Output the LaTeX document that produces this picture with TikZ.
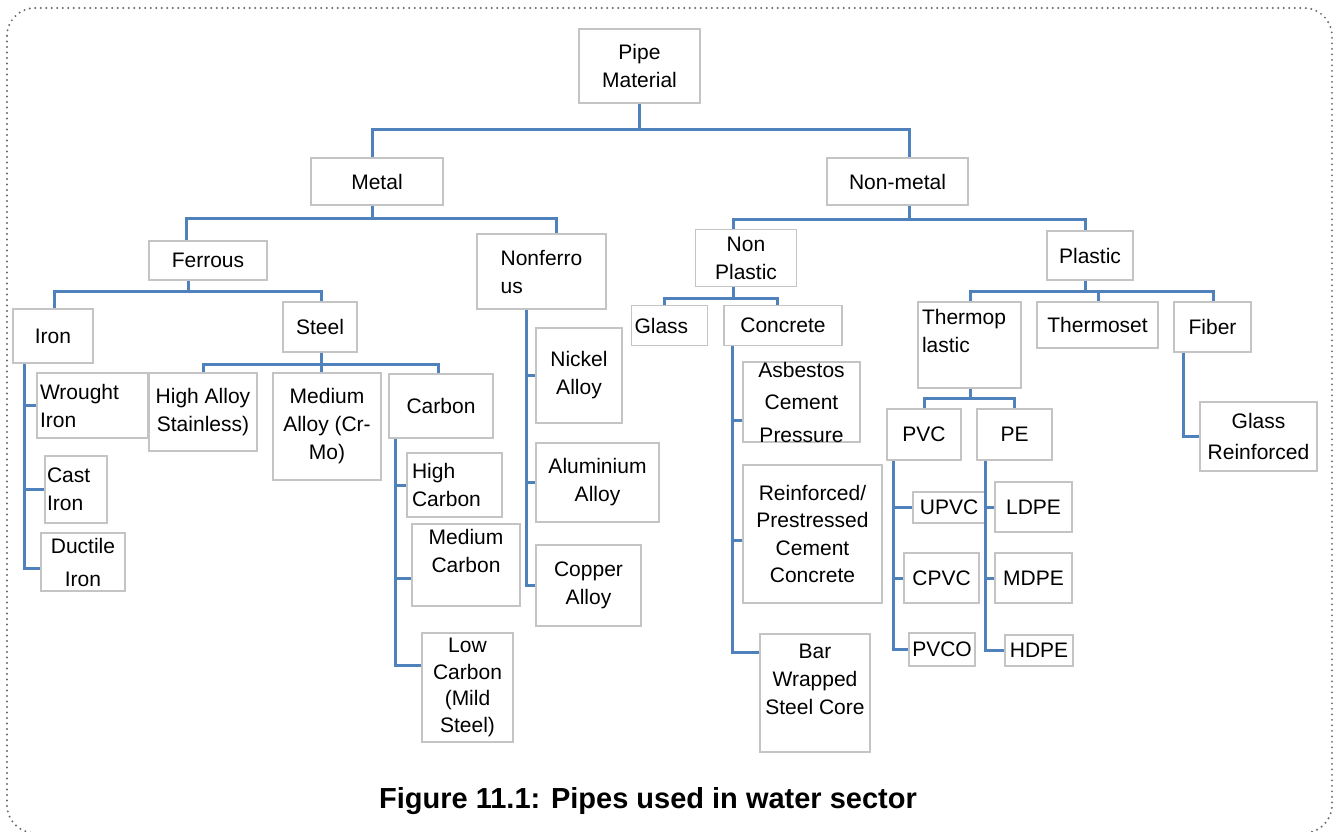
\documentclass[tikz,border=0pt]{standalone}
\usepackage{fontspec}
\setmainfont{Liberation Sans}
\usepackage{xcolor}

\definecolor{linkblue}{RGB}{79,129,189}
\definecolor{boxgray}{RGB}{196,196,196}
\definecolor{framegray}{RGB}{105,105,105}

\tikzset{
  box/.style={draw=boxgray, line width=1.5pt, fill=white, inner sep=0pt, align=center,
    font=\fontsize{21}{28}\selectfont},
  conn/.style={draw=linkblue, line width=3pt},
}

\begin{document}
\begin{tikzpicture}[x=1pt,y=-1pt]
        \useasboundingbox (0,0) rectangle (1338,831);
        \draw[framegray, line width=2.2pt, line cap=round, dash pattern=on 0pt off 5.5pt, rounded corners=28pt] (7,8) rectangle (1332,833);
        % top levels
        \node[box, minimum width=121pt, minimum height=74pt] (pipe) at (639.5,66) {Pipe\\Material};
        \node[box, minimum width=132pt, minimum height=47pt] (metal) at (377,181.5) {Metal};
        \node[box, minimum width=141pt, minimum height=47pt] (nonmetal) at (897.5,181.5) {Non-metal};
        % metal side
        \node[box, minimum width=118pt, minimum height=39pt] (ferrous) at (208,260.5) {Ferrous};
        \node[box, minimum width=129pt, minimum height=75pt, align=left] (nonferrous) at (541.5,271.5) {Nonferro\\us};
        \node[box, minimum width=80pt, minimum height=54pt] (iron) at (53,336) {Iron};
        \node[box, minimum width=74pt, minimum height=50pt] (steel) at (320,327) {Steel};
        \node[box, minimum width=111pt, minimum height=65pt, align=left, text width=105pt] (wrought) at (92.5,405.5) {Wrought\\Iron};
        \node[box, minimum width=62pt, minimum height=67pt, align=left, text width=58pt] (cast) at (76,489.5) {Cast\\Iron};
        \node[box, minimum width=84pt, minimum height=58pt] (ductile) at (83,562) {Ductile\\[5pt]Iron};
        \node[box, minimum width=108pt, minimum height=78pt] (highalloy) at (203,412) {High Alloy\\Stainless)};
        \node[box, minimum width=108pt, minimum height=107pt] (medalloy) at (327,426.5) {Medium\\Alloy (Cr-\\Mo)};
        \node[box, minimum width=104pt, minimum height=64pt] (carbon) at (441,406) {Carbon};
        \node[box, minimum width=95pt, minimum height=64pt, align=left, text width=85pt] (highc) at (454.5,485) {High\\Carbon};
        \node[box, minimum width=108pt, minimum height=82pt] (medc) at (466,565) {Medium\\Carbon\\~};
        \node[box, minimum width=91pt, minimum height=109pt, font=\fontsize{21}{26.5}\selectfont] (lowc) at (467.5,687.5) {Low\\Carbon\\(Mild\\Steel)};
        \node[box, minimum width=86pt, minimum height=95pt] (nickel) at (579,375.5) {Nickel\\Alloy};
        \node[box, minimum width=123pt, minimum height=79pt] (alu) at (597.5,482.5) {Aluminium\\Alloy};
        \node[box, minimum width=105pt, minimum height=81pt] (copper) at (588.5,585.5) {Copper\\Alloy};
        % non-metal side
        \node[box, minimum width=101pt, minimum height=57pt] (nonplastic) at (746,258) {Non\\Plastic};
        \node[box, minimum width=86pt, minimum height=49pt] (plastic) at (1090,255.5) {Plastic};
        \node[box, minimum width=76pt, minimum height=40pt, align=left, text width=70pt] (glass) at (669.5,325.5) {Glass};
        \node[box, minimum width=118pt, minimum height=40pt] (concrete) at (783,325.5) {Concrete};
        \node[box, minimum width=117pt, minimum height=72pt, font=\fontsize{21}{32.5}\selectfont] (asbestos) at (801.5,402) {Asbestos\\Cement\\Pressure};
        \node[box, minimum width=139pt, minimum height=138pt, font=\fontsize{21}{27.5}\selectfont] (reinforced) at (812.5,534) {Reinforced/\\Prestressed\\Cement\\Concrete};
        \node[box, minimum width=110pt, minimum height=118pt] (barwrap) at (815,693) {Bar\\Wrapped\\Steel Core\\~};
        \node[box, minimum width=103pt, minimum height=86pt, align=left, text width=95pt] (thermoplastic) at (969.5,345) {Thermop\\lastic\\~};
        \node[box, minimum width=121pt, minimum height=46pt] (thermoset) at (1097.5,325) {Thermoset};
        \node[box, minimum width=77pt, minimum height=50pt] (fiber) at (1212.5,327) {Fiber};
        \node[box, minimum width=117pt, minimum height=69pt, font=\fontsize{21}{31}\selectfont] (glassrf) at (1258.5,436.5) {Glass\\Reinforced};
        \node[box, minimum width=74pt, minimum height=51pt] (pvc) at (924,434.5) {PVC};
        \node[box, minimum width=75pt, minimum height=51pt] (pe) at (1014.5,434.5) {PE};
        \node[box, minimum width=72pt, minimum height=31pt] (upvc) at (949,507.5) {UPVC};
        \node[box, minimum width=75pt, minimum height=50pt] (cpvc) at (941.5,578) {CPVC};
        \node[box, minimum width=66pt, minimum height=33pt] (pvco) at (942,649.5) {PVCO};
        \node[box, minimum width=77pt, minimum height=50pt] (ldpe) at (1033.5,507) {LDPE};
        \node[box, minimum width=77pt, minimum height=50pt] (mdpe) at (1033.5,578) {MDPE};
        \node[box, minimum width=68pt, minimum height=31pt] (hdpe) at (1039,650.5) {HDPE};
        % connectors
        \draw[conn] (pipe.south) -- ++(0,26) coordinate (pm);
        \draw[conn] (metal.north -| 372,0) |- (pm) -| (nonmetal.north -| 909,0);
        \draw[conn] (metal.south -| 372,0) -- ++(0,13) coordinate (mm);
        \draw[conn] (ferrous.north -| 186,0) |- (mm) -| (nonferrous.north -| 556,0);
        \draw[conn] (ferrous.south -| 188,0) -- ++(0,11) coordinate (fm);
        \draw[conn] (iron.north -| 54,0) |- (fm) -| (steel.north -| 321,0);
        \draw[conn] (iron.south -| 24,0) |- (ductile.west |- 0,568);
        \draw[conn] (wrought.west -| 24,0) -- (wrought.west);
        \draw[conn] (cast.west -| 24,0) -- (cast.west);
        \draw[conn] (steel.south -| 321,0) -- ++(0,12) coordinate (sm);
        \draw[conn] (highalloy.north -| 203,0) |- (sm) -| (carbon.north -| 438,0);
        \draw[conn] (sm) -- (medalloy.north -| 321,0);
        \draw[conn] (carbon.south -| 395,0) |- (lowc.west |- 0,665);
        \draw[conn] (highc.west -| 395,0) -- (highc.west);
        \draw[conn] (medc.west |- 0,578) -- ++(-17,0);
        \draw[conn] (nonferrous.south -| 526,0) |- (copper.west);
        \draw[conn] (nickel.west -| 526,0) -- (nickel.west);
        \draw[conn] (alu.west -| 526,0) -- (alu.west);
        \draw[conn] (nonmetal.south -| 909,0) -- ++(0,14) coordinate (nm);
        \draw[conn] (nonplastic.north -| 733,0) |- (nm) -| (plastic.north -| 1085,0);
        \draw[conn] (nonplastic.south -| 733,0) -- ++(0,11) coordinate (npm);
        \draw[conn] (glass.north -| 664,0) |- (npm) -| (concrete.north -| 777,0);
        \draw[conn] (concrete.south -| 732,0) |- (barwrap.west |- 0,652);
        \draw[conn] (asbestos.west |- 0,420) -- ++(-11,0);
        \draw[conn] (reinforced.west |- 0,540) -- ++(-11,0);
        \draw[conn] (plastic.south -| 1085,0) -- ++(0,11) coordinate (pl);
        \draw[conn] (thermoplastic.north -| 970,0) |- (pl) -| (fiber.north -| 1213,0);
        \draw[conn] (pl -| 1098,0) -- (thermoset.north -| 1098,0);
        \draw[conn] (thermoplastic.south -| 970,0) -- ++(0,10) coordinate (tp);
        \draw[conn] (pvc.north -| 924,0) |- (tp) -| (pe.north -| 1014,0);
        \draw[conn] (pvc.south -| 893,0) |- (pvco.west);
        \draw[conn] (upvc.west -| 893,0) -- (upvc.west);
        \draw[conn] (cpvc.west -| 893,0) -- (cpvc.west);
        \draw[conn] (pe.south -| 985,0) |- (hdpe.west);
        \draw[conn] (ldpe.west -| 985,0) -- (ldpe.west);
        \draw[conn] (mdpe.west -| 985,0) -- (mdpe.west);
        \draw[conn] (fiber.south -| 1183,0) |- (glassrf.west);
        % caption
        \node[font=\bfseries\fontsize{29}{34}\selectfont] (caption) at (648,801) {Figure 11.1: Pipes used in water sector};
    \end{tikzpicture}
\end{document}
